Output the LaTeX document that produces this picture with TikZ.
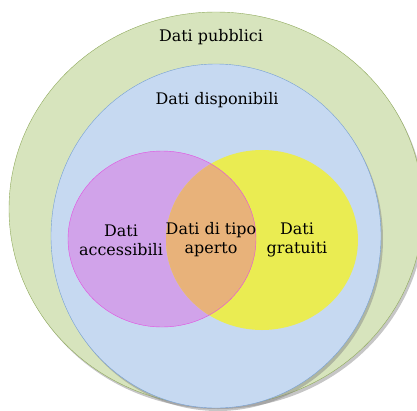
\documentclass[tikz,border=0pt]{standalone}
\usepackage{fontspec}
\setmainfont{DejaVu Serif}
\usetikzlibrary{shapes.geometric,shadows}

\definecolor{pubblici}{HTML}{D7E4BD}
\definecolor{pubblicibordo}{HTML}{8FA95C}
\definecolor{disponibili}{HTML}{C6D9F1}
\definecolor{disponibilibordo}{HTML}{76A0D4}
\definecolor{accessibili}{HTML}{D1A3EA}
\definecolor{accessibilibordo}{HTML}{E34FE0}
\definecolor{gratuiti}{HTML}{EAEC52}
\definecolor{aperto}{HTML}{E8B27A}

\begin{document}
\begin{tikzpicture}[x=1bp, y=-1bp,
  every node/.style={font=\fontsize{16}{19}\selectfont, align=center, text=black},
  set/.style={ellipse, inner sep=0pt, outer sep=0pt},
  ombra/.style={drop shadow={shadow xshift=2bp, shadow yshift=-3bp, opacity=0.45}}]
\useasboundingbox (0,0) rectangle (417,411);
% insiemi
\node[set, ombra, fill=pubblici, draw=pubblicibordo, minimum width=414bp, minimum height=394bp] (pubblici) at (216,209) {};
\node[set, ombra, fill=disponibili, draw=disponibilibordo, minimum width=330bp, minimum height=344bp] (disponibili) at (216,236) {};
\node[set, fill=accessibili, minimum width=188bp, minimum height=176bp] (accessibili) at (162,239) {};
\node[set, fill=gratuiti, minimum width=192bp, minimum height=180bp] (gratuiti) at (262,240) {};
\begin{scope}
\clip (accessibili.center) ellipse [x radius=94, y radius=88];
\fill[aperto] (gratuiti.center) ellipse [x radius=96, y radius=90];
\end{scope}
\draw[accessibilibordo] (accessibili.center) ellipse [x radius=94, y radius=88];
% etichette
\node (tpubblici) at (211,37) {Dati pubblici};
\node (tdisponibili) at (217,100) {Dati disponibili};
\node (taccessibili) at (121,240) {Dati\\accessibili};
\node (taperto) at (211,240) {Dati di tipo\\aperto};
\node (tgratuiti) at (297,240) {Dati\\gratuiti};
\end{tikzpicture}
\end{document}
